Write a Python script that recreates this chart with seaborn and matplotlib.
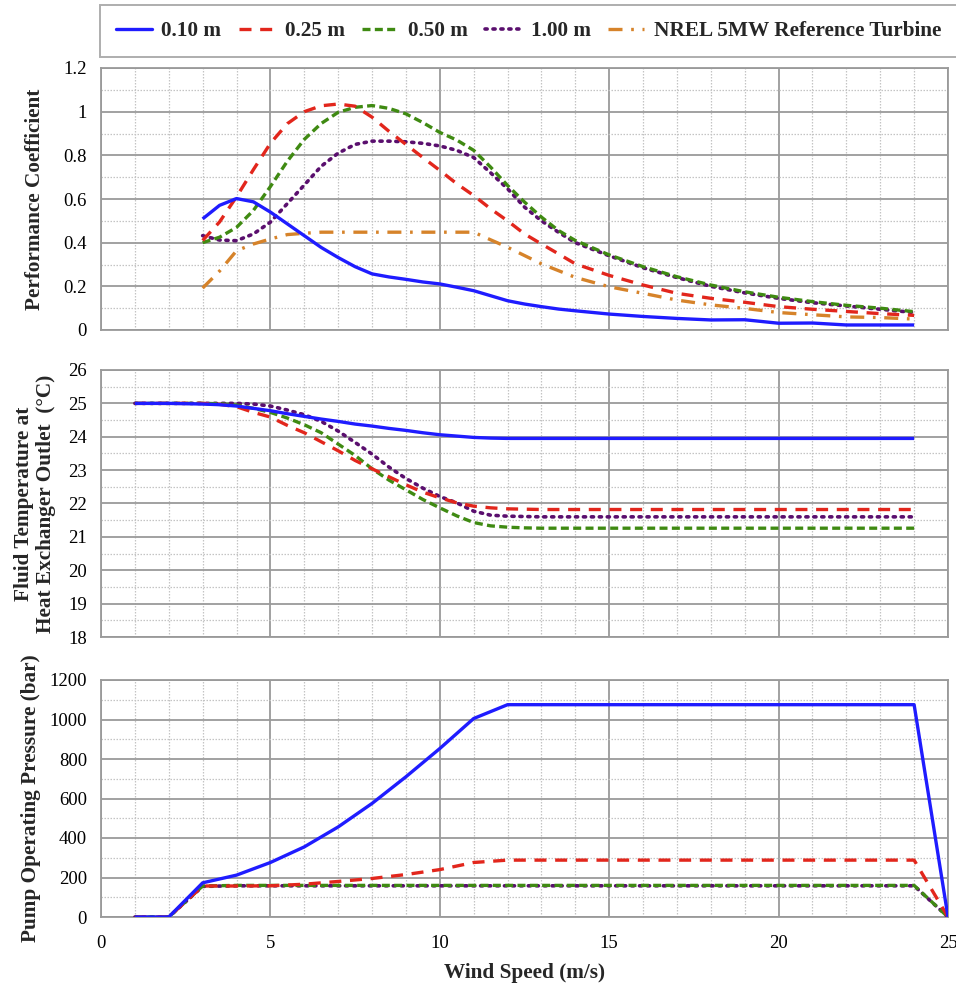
import numpy as np
import pandas as pd
import matplotlib
matplotlib.use("Agg")
import matplotlib.pyplot as plt
from matplotlib.ticker import MultipleLocator, FuncFormatter
from matplotlib.lines import Line2D
import seaborn as sns

sns.set_theme(style="white")
plt.rcParams["font.family"] = ["Liberation Serif", "DejaVu Serif"]

# ---- data ---------------------------------------------------------------
series_labels = ["0.10 m", "0.25 m", "0.50 m", "1.00 m", "NREL 5MW Reference Turbine"]

# Performance coefficient vs wind speed (m/s)
cp_wind = [3, 3.5, 4, 4.5, 5, 5.5, 6, 6.5, 7, 7.5, 8, 8.5, 9, 9.5, 10, 10.5, 11, 11.5,
           12, 12.5, 13, 13.5, 14, 15, 16, 17, 18, 19, 20, 21, 22, 23, 24]
cp_010 = [0.509, 0.571, 0.602, 0.587, 0.54, 0.486, 0.432, 0.378, 0.332, 0.29, 0.257, 0.243,
          0.232, 0.22, 0.211, 0.196, 0.18, 0.157, 0.134, 0.119, 0.107, 0.096, 0.088,
          0.073, 0.062, 0.053, 0.046, 0.047, 0.031, 0.032, 0.023, 0.023, 0.023]
cp_025 = [0.41, 0.495, 0.61, 0.735, 0.855, 0.945, 1.0, 1.027, 1.035, 1.025, 0.975, 0.91,
          0.85, 0.79, 0.731, 0.67, 0.616, 0.555, 0.50, 0.44, 0.394, 0.349, 0.303,
          0.25, 0.206, 0.168, 0.145, 0.127, 0.107, 0.095, 0.085, 0.075, 0.067]
cp_050 = [0.40, 0.425, 0.47, 0.548, 0.657, 0.773, 0.873, 0.946, 0.997, 1.02, 1.028, 1.015,
          0.99, 0.95, 0.905, 0.87, 0.823, 0.746, 0.662, 0.586, 0.517, 0.456, 0.41,
          0.344, 0.29, 0.244, 0.206, 0.175, 0.15, 0.13, 0.113, 0.10, 0.084]
cp_100 = [0.432, 0.412, 0.409, 0.44, 0.494, 0.579, 0.664, 0.75, 0.81, 0.85, 0.865, 0.865,
          0.862, 0.855, 0.843, 0.823, 0.79, 0.72, 0.647, 0.563, 0.50, 0.448, 0.40,
          0.34, 0.285, 0.24, 0.20, 0.17, 0.145, 0.125, 0.11, 0.095, 0.08]
cp_nrel = [0.192, 0.27, 0.363, 0.394, 0.417, 0.437, 0.443, 0.448, 0.448, 0.448, 0.448, 0.448,
           0.448, 0.448, 0.448, 0.448, 0.448, 0.413, 0.379, 0.341, 0.303, 0.272, 0.241,
           0.198, 0.168, 0.137, 0.115, 0.099, 0.08, 0.07, 0.06, 0.057, 0.05]

# Fluid temperature at heat exchanger outlet (deg C) vs wind speed
temp_wind = [1, 2, 3, 3.5, 4, 4.5, 5, 5.5, 6, 6.5, 7, 7.5, 8, 8.5, 9, 9.5, 10, 10.5, 11,
             11.5, 12, 12.5, 13, 14, 15, 16, 17, 18, 19, 20, 21, 22, 23, 24]
temp_010 = [25.0, 25.0, 24.98, 24.96, 24.92, 24.85, 24.78, 24.69, 24.61, 24.53, 24.46, 24.38,
            24.32, 24.25, 24.19, 24.12, 24.06, 24.02, 23.98, 23.96, 23.95, 23.95] + [23.95] * 12
temp_025 = [25.0, 25.0, 25.0, 24.97, 24.9, 24.73, 24.59, 24.34, 24.12, 23.85, 23.58, 23.29,
            23.04, 22.8, 22.56, 22.34, 22.17, 22.02, 21.92, 21.87, 21.84, 21.83] + [21.82] * 12
temp_050 = [25.0, 25.0, 25.0, 24.99, 24.95, 24.85, 24.73, 24.56, 24.36, 24.12, 23.78, 23.44,
            23.04, 22.7, 22.41, 22.12, 21.87, 21.63, 21.43, 21.33, 21.29, 21.27] + [21.26] * 12
temp_100 = [25.0, 25.0, 25.0, 25.0, 25.0, 24.98, 24.92, 24.8, 24.66, 24.46, 24.17, 23.83,
            23.48, 23.09, 22.75, 22.46, 22.21, 22.02, 21.77, 21.65, 21.62, 21.61] + [21.6] * 12

# Pump operating pressure (bar) vs wind speed
pres_wind = list(range(1, 26))
pres_010 = [0, 0, 173, 212, 276, 355, 456, 575, 710, 853, 1005, 1075] + [1075] * 12 + [0]
pres_025 = [0, 0, 157, 157, 158, 166, 180, 195, 215, 240, 276, 288] + [288] * 12 + [0]
pres_050 = [0, 0, 157] + [160] * 21 + [0]
pres_100 = [0, 0, 155] + [158] * 21 + [0]

# ---- styles -------------------------------------------------------------
colors = ["#1f1cff", "#e2261c", "#3f8a12", "#5a0f6e", "#d6832a"]
styles = [
    dict(lw=2.4, ls="-"),
    dict(lw=2.4, dashes=(3.6, 2.6)),
    dict(lw=2.4, dashes=(2.4, 1.3)),
    dict(lw=2.6, dashes=(0.6, 1.6), dash_capstyle="round"),
    dict(lw=2.4, dashes=(4.2, 2.6, 0.8, 2.6)),
]

fig = plt.figure(figsize=(9.56, 9.85), dpi=100)
W, H = 956, 985
left, right = 101, 948


def make_axes(top, bottom):
    return fig.add_axes([left / W, 1 - bottom / H, (right - left) / W, (bottom - top) / H])


ax1 = make_axes(68, 330)
ax2 = make_axes(370, 637)
ax3 = make_axes(680, 917)


def draw(ax, x, ys, idx):
    for y, i in zip(ys, idx):
        df = pd.DataFrame({"wind": x, "val": y})
        sns.lineplot(data=df, x="wind", y="val", ax=ax, color=colors[i],
                     solid_capstyle="butt", zorder=3 + (4 - i) * 0.1, **styles[i])


draw(ax1, cp_wind, [cp_nrel, cp_010, cp_025, cp_050, cp_100], [4, 0, 1, 2, 3])
draw(ax2, temp_wind, [temp_010, temp_025, temp_050, temp_100], [0, 1, 2, 3])
draw(ax3, pres_wind, [pres_010, pres_025, pres_050, pres_100], [0, 1, 2, 3])

grid_major = "#9a9a9a"
grid_minor = "#c4c4c4"
tick_size = 13.5
label_size = 15.3


def style_axes(ax, ylim, ymajor, yminor, fmt):
    ax.set_xlim(0, 25)
    ax.set_ylim(*ylim)
    ax.xaxis.set_major_locator(MultipleLocator(5))
    ax.xaxis.set_minor_locator(MultipleLocator(1))
    ax.yaxis.set_major_locator(MultipleLocator(ymajor))
    ax.yaxis.set_minor_locator(MultipleLocator(yminor))
    ax.yaxis.set_major_formatter(FuncFormatter(fmt))
    ax.grid(which="major", color=grid_major, lw=1.3, ls="-", zorder=1)
    ax.grid(which="minor", color=grid_minor, lw=0.9, ls=(0, (1.2, 1.2)), zorder=0)
    ax.set_axisbelow(True)
    for s in ax.spines.values():
        s.set_color(grid_major)
        s.set_linewidth(1.3)
    ax.tick_params(which="major", direction="out", length=5, width=1.2, color=grid_major,
                   labelsize=tick_size, labelcolor="black", pad=5)
    ax.tick_params(which="minor", length=0)
    ax.tick_params(axis="x", pad=8)
    ax.set_xlabel("")
    ax.set_ylabel("")


style_axes(ax1, (0, 1.2), 0.2, 0.1, lambda v, p: f"{v:g}" if abs(v) > 1e-9 else "0")
style_axes(ax2, (18, 26), 1, 0.5, lambda v, p: f"{v:.0f}")
style_axes(ax3, (0, 1200), 200, 100, lambda v, p: f"{v:.0f}")
ax1.tick_params(axis="x", labelbottom=False)
ax2.tick_params(axis="x", labelbottom=False)
ax3.xaxis.set_major_formatter(FuncFormatter(lambda v, p: f"{v:.0f}"))

label_font = dict(fontsize=label_size, fontweight="bold")
ax1.set_ylabel("Performance Coefficient", **label_font)
ax1.yaxis.set_label_coords(-0.066, 0.5)
ax2.set_ylabel("Fluid Temperature at\nHeat Exchanger Outlet  (\u00b0C)", linespacing=1.15, **label_font)
ax2.yaxis.set_label_coords(-0.053, 0.5)
ax3.set_ylabel("Pump Operating Pressure (bar)", **label_font)
ax3.yaxis.set_label_coords(-0.071, 0.5)
ax3.set_xlabel("Wind Speed (m/s)", labelpad=8, **label_font)

# ---- legend --------------------------------------------------------------
handles = [Line2D([], [], color=c, **s) for c, s in zip(colors, styles)]
leg = fig.legend(handles, series_labels, loc="center", ncol=5,
                 bbox_to_anchor=(528.5 / W, 1 - 31 / H),
                 frameon=True, fancybox=False, handlelength=1.7, handletextpad=0.45,
                 columnspacing=0.82, borderpad=0.75, borderaxespad=0.0,
                 prop=dict(family="Liberation Serif", weight="bold", size=label_size))
leg.get_frame().set_edgecolor(grid_major)
leg.get_frame().set_linewidth(1.4)

fig.savefig("out.png", dpi=100)
